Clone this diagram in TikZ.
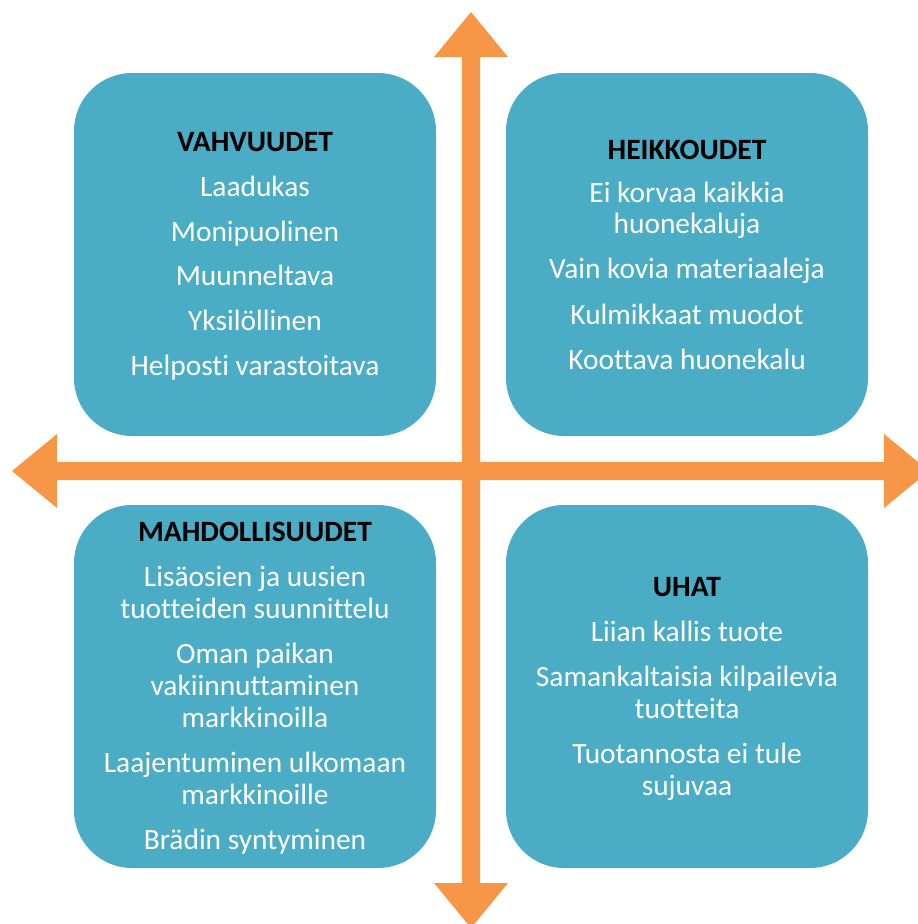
\documentclass[tikz,border=0pt]{standalone}
\usepackage{fontspec}
\setmainfont{Carlito}[Ligatures=NoCommon]
\definecolor{quad}{HTML}{4BACC6}
\definecolor{axis}{HTML}{F79646}
\begin{document}
\begin{tikzpicture}[x=1pt,y=-1pt,
  quadbox/.style={fill=quad, draw=none, rounded corners=58pt,
    minimum width=362pt, minimum height=363pt, inner sep=0pt},
  head/.style={anchor=base, inner sep=0pt, text=black,
    font=\fontsize{29.5}{34}\selectfont\bfseries},
  item/.style={anchor=base, inner sep=0pt, text=white,
    font=\fontsize{29.4}{34}\selectfont}]
\useasboundingbox (0,0) rectangle (918,924);

% four quadrants
\node[quadbox] (s) at (255,254.5) {};
\node[quadbox] (w) at (687,254.5) {};
\node[quadbox] (o) at (255,686.5) {};
\node[quadbox] (t) at (687,686.5) {};

% axes: two double-headed block arrows
\fill[axis] (12,471) -- (57,434) -- (57,462) -- (884,462) -- (884,434)
  -- (929,471) -- (884,508) -- (884,480) -- (57,480) -- (57,508) -- cycle;
\fill[axis] (471,12) -- (508,57) -- (480,57) -- (480,883) -- (508,883)
  -- (471,928) -- (434,883) -- (462,883) -- (462,57) -- (434,57) -- cycle;

% strengths
\node[head] (s0) at (255,151) {VAHVUUDET};
\node[item] (s1) at (255,196) {Laadukas};
\node[item] (s2) at (255,241) {Monipuolinen};
\node[item] (s3) at (255,285) {Muunneltava};
\node[item] (s4) at (255,330) {Yksilöllinen};
\node[item] (s5) at (255,375) {Helposti varastoitava};

% weaknesses
\node[head] (w0) at (687,159) {HEIKKOUDET};
\node[item] (w1) at (687,202) {Ei korvaa kaikkia};
\node[item] (w2) at (687,233) {huonekaluja};
\node[item] (w3) at (687,278) {Vain kovia materiaaleja};
\node[item] (w4) at (687,324) {Kulmikkaat muodot};
\node[item] (w5) at (687,369) {Koottava huonekalu};

% opportunities
\node[head] (o0) at (255,541) {MAHDOLLISUUDET};
\node[item] (o1) at (255,586) {Lisäosien ja uusien};
\node[item] (o2) at (255,618) {tuotteiden suunnittelu};
\node[item] (o3) at (255,663) {Oman paikan};
\node[item] (o4) at (255,695) {vakiinnuttaminen};
\node[item] (o5) at (255,727) {markkinoilla};
\node[item] (o6) at (255,772) {Laajentuminen ulkomaan};
\node[item] (o7) at (255,804) {markkinoille};
\node[item] (o8) at (255,849) {Brädin syntyminen};

% threats
\node[head] (t0) at (687,596) {UHAT};
\node[item] (t1) at (687,641) {Liian kallis tuote};
\node[item] (t2) at (687,686) {Samankaltaisia kilpailevia};
\node[item] (t3) at (687,718) {tuotteita};
\node[item] (t4) at (687,763) {Tuotannosta ei tule};
\node[item] (t5) at (687,795) {sujuvaa};
\end{tikzpicture}
\end{document}
